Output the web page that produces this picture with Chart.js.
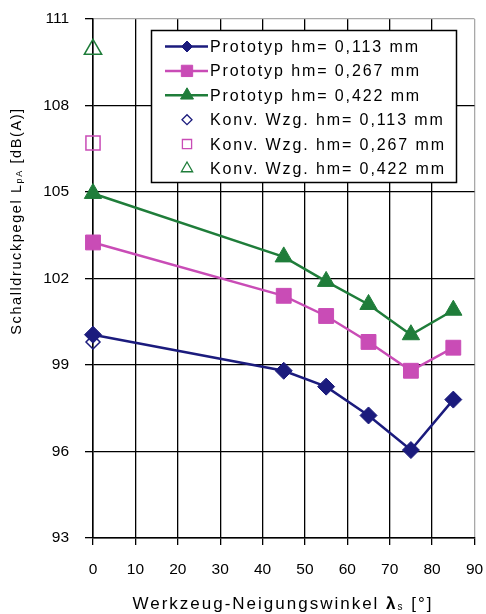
<!DOCTYPE html>
<html lang="de">
<head>
<meta charset="UTF-8" />
<title>Schalldruckpegel</title>
<script src="https://cdn.jsdelivr.net/npm/chart.js"></script>
<style>
  html, body { margin: 0; padding: 0; background: #fff; }
  canvas { display: block; }
</style>
</head>
<body>
<canvas id="chart" width="486" height="614"></canvas>
<script>
  // Werkzeug-Neigungswinkel (x) und Schalldruckpegel (y)
  const winkel = [0, 45, 55, 65, 75, 85];
  const proto113 = [100.05, 98.8, 98.25, 97.25, 96.05, 97.8];
  const proto267 = [103.25, 101.4, 100.7, 99.8, 98.8, 99.6];
  const proto422 = [104.95, 102.75, 101.9, 101.1, 100.05, 100.9];

  const konvWinkel = [0];
  const konv113 = [99.8];
  const konv267 = [106.7];
  const konv422 = [109.95];

  const legendLabels = [
    'Prototyp hm= 0,113 mm',
    'Prototyp hm= 0,267 mm',
    'Prototyp hm= 0,422 mm',
    'Konv. Wzg. hm= 0,113 mm',
    'Konv. Wzg. hm= 0,267 mm',
    'Konv. Wzg. hm= 0,422 mm'
  ];

  const navy = '#1b1b7d';
  const magenta = '#c94cb6';
  const green = '#1f7d3a';
  const FONT = "'Liberation Sans', Arial, sans-serif";

  const pts = (xs, ys) => xs.map((x, i) => ({ x: x, y: ys[i] }));

  function lineSet(label, ys, color, style, r) {
    return {
      label: label, data: pts(winkel, ys),
      borderColor: color, backgroundColor: color, borderWidth: 2.5,
      pointStyle: style, pointRadius: r, pointBorderWidth: 1,
      pointBackgroundColor: color, pointBorderColor: color,
      tension: 0, clip: false, showLine: true
    };
  }
  function konvSet(label, ys, color, style, r) {
    return {
      label: label, data: pts(konvWinkel, ys),
      showLine: false, borderColor: color, backgroundColor: 'rgba(0,0,0,0)',
      pointStyle: style, pointRadius: r, pointBorderWidth: 1.5,
      pointBackgroundColor: 'rgba(0,0,0,0)', pointBorderColor: color, clip: false
    };
  }

  const datasets = [
    lineSet(legendLabels[0], proto113, navy, 'rectRot', 8.5),
    lineSet(legendLabels[1], proto267, magenta, 'rect', 10.5),
    lineSet(legendLabels[2], proto422, green, 'triangle', 10),
    konvSet(legendLabels[3], konv113, navy, 'rectRot', 7),
    konvSet(legendLabels[4], konv267, magenta, 'rect', 10),
    konvSet(legendLabels[5], konv422, green, 'triangle', 10)
  ];

  // legend sample markers (smaller than data markers)
  const legendMarks = [
    { style: 'rectRot', r: 5.5, fill: navy, line: true },
    { style: 'rect', r: 8, fill: magenta, line: true },
    { style: 'triangle', r: 7.5, fill: green, line: true },
    { style: 'rectRot', r: 5, fill: null, line: false },
    { style: 'rect', r: 6.5, fill: null, line: false },
    { style: 'triangle', r: 6.5, fill: null, line: false }
  ];

  function drawRuns(ctx, runs, cx, cy) {
    let total = 0;
    runs.forEach(r => { ctx.font = r.font; total += ctx.measureText(r.t).width; });
    let x = cx - total / 2;
    runs.forEach(r => {
      ctx.font = r.font;
      ctx.fillText(r.t, x, cy + (r.dy || 0));
      x += ctx.measureText(r.t).width;
    });
  }

  const extras = {
    id: 'extras',
    afterDraw(chart) {
      const ctx = chart.ctx;
      ctx.save();
      ctx.fillStyle = '#000';
      ctx.textBaseline = 'middle';
      ctx.textAlign = 'left';

      // y axis title
      ctx.save();
      ctx.letterSpacing = '1.6px';
      ctx.translate(17, 221);
      ctx.rotate(-Math.PI / 2);
      drawRuns(ctx, [
        { t: 'Schalldruckpegel L', font: '14.5px ' + FONT },
        { t: 'pA', font: '9px ' + FONT, dy: 3 },
        { t: ' [dB(A)]', font: '14.5px ' + FONT }
      ], 0, 0);
      ctx.restore();

      // x axis title
      ctx.letterSpacing = '2px';
      drawRuns(ctx, [
        { t: 'Werkzeug-Neigungswinkel ', font: '17px ' + FONT },
        { t: '\u03bb', font: 'bold 17px ' + FONT },
        { t: 's', font: '10px ' + FONT, dy: 3 },
        { t: ' [\u00b0]', font: '17px ' + FONT }
      ], 283, 604);

      // legend box
      const bx = 151.5, by = 30.5, bw = 305, bh = 152;
      ctx.fillStyle = '#fff';
      ctx.fillRect(bx, by, bw, bh);
      ctx.strokeStyle = '#000';
      ctx.lineWidth = 1.5;
      ctx.strokeRect(bx, by, bw, bh);

      ctx.letterSpacing = '1.9px';
      ctx.font = '16px ' + FONT;
      legendLabels.forEach((lab, i) => {
        const y = 46.5 + i * 24.4;
        const ds = chart.data.datasets[i];
        const m = legendMarks[i];
        const color = ds.pointBorderColor;
        if (m.line) {
          ctx.strokeStyle = color;
          ctx.lineWidth = 2.5;
          ctx.beginPath();
          ctx.moveTo(165, y);
          ctx.lineTo(208, y);
          ctx.stroke();
        }
        ctx.fillStyle = m.fill || 'rgba(0,0,0,0)';
        ctx.strokeStyle = color;
        ctx.lineWidth = m.fill ? 1 : 1.3;
        Chart.helpers.drawPoint(ctx, { pointStyle: m.style, radius: m.r, rotation: 0, borderWidth: ctx.lineWidth }, 187, y);
        ctx.fillStyle = '#000';
        ctx.fillText(lab, 210, y + 1);
      });
      ctx.restore();
    }
  };

  new Chart(document.getElementById('chart'), {
    type: 'line',
    data: { datasets: datasets },
    options: {
      responsive: false,
      animation: false,
      events: [],
      layout: { padding: { left: 40, right: 9, top: 19, bottom: 31 } },
      plugins: { legend: { display: false }, tooltip: { enabled: false } },
      scales: {
        x: {
          type: 'linear', min: 0, max: 90,
          ticks: { stepSize: 10, color: '#000', padding: 15, maxRotation: 0, font: { family: FONT, size: 15.5 } },
          grid: {
            color: c => c.tick && c.tick.value === 90 ? '#a8a8a8' : '#000',
            tickColor: '#000', lineWidth: 1.3, tickLength: 7
          },
          border: { color: '#000', width: 1.5 },
          afterFit: s => { s.height = 45; s.paddingLeft = 0; s.paddingRight = 0; }
        },
        y: {
          min: 93, max: 111,
          ticks: { stepSize: 3, color: '#000', padding: 16, font: { family: FONT, size: 15.5 } },
          grid: {
            color: c => c.tick && c.tick.value === 111 ? '#a8a8a8' : '#000',
            tickColor: '#000', lineWidth: 1.3, tickLength: 8
          },
          border: { color: '#000', width: 1.5 },
          afterFit: s => { s.width = 53; s.paddingTop = 0; s.paddingBottom = 0; }
        }
      }
    },
    plugins: [extras]
  });
</script>
</body>
</html>
